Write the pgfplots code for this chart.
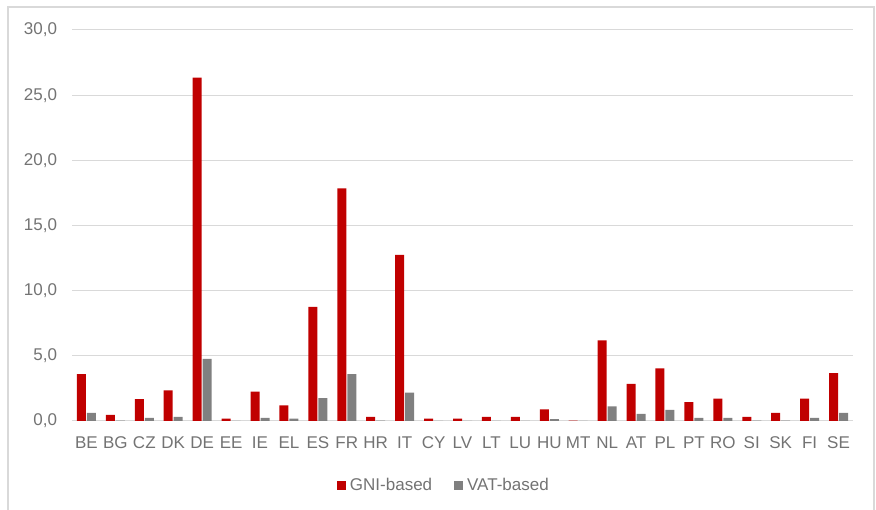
\documentclass[border=0pt]{standalone}
\usepackage{pgfplots}
\pgfplotsset{compat=1.18}
\usepackage{fontspec}
\setmainfont{Liberation Sans}
\definecolor{gnired}{HTML}{C00000}
\definecolor{vatgray}{HTML}{808080}
\definecolor{gridgray}{HTML}{D9D9D9}
\definecolor{txtgray}{HTML}{737373}
\definecolor{framegray}{HTML}{D9D9D9}
\begin{document}
\begin{tikzpicture}[x=1pt,y=1pt]
\path[use as bounding box] (0,0) rectangle (876,510);
\draw[framegray, line width=1.8pt] (8,0) -- (8,503) -- (874,503) -- (874,0);
\begin{axis}[
  at={(72pt,89pt)}, anchor=south west,
  scale only axis, width=781pt, height=391pt,
  xmin=-0.5, xmax=26.5, ymin=0, ymax=30,
  axis line style={draw=none},
  ymajorgrids, grid style={gridgray, line width=1pt},
  ytick={0,5,...,30},
  xtick={0,...,26},
  xticklabels={BE,BG,CZ,DK,DE,EE,IE,EL,ES,FR,HR,IT,CY,LV,LT,LU,HU,MT,NL,AT,PL,PT,RO,SI,SK,FI,SE},
  major tick length=0pt,
  tick label style={font=\fontsize{17}{20}\selectfont, text=txtgray},
  yticklabel style={/pgf/number format/.cd, fixed, fixed zerofill, precision=1, use comma, /tikz/.cd, anchor=east, xshift=-11.5pt},
  /pgf/number format/assume math mode=true,
  xticklabel style={anchor=north, yshift=-12pt},
  ybar, bar width=9pt,
  legend style={at={(0.339,-0.164)}, anchor=west, draw=none, fill=none,
    legend columns=2, font=\fontsize{17}{20}\selectfont, text=txtgray,
    /tikz/every even column/.append style={column sep=18pt},
    inner sep=0pt, nodes={inner xsep=4pt}},
  legend image code/.code={\fill[#1] (0pt,-4.5pt) rectangle (9pt,4.5pt);},
]
\addplot[fill=gnired, draw=none, bar shift=-5pt] coordinates {
(0,3.6) (1,0.46) (2,1.67) (3,2.34) (4,26.35) (5,0.18) (6,2.26) (7,1.2) (8,8.75) (9,17.85)
(10,0.31) (11,12.75) (12,0.18) (13,0.18) (14,0.31) (15,0.31) (16,0.9) (17,0.03) (18,6.18) (19,2.85)
(20,4.03) (21,1.44) (22,1.72) (23,0.31) (24,0.62) (25,1.72) (26,3.67)};
\addplot[fill=vatgray, draw=none, bar shift=5pt] coordinates {
(0,0.62) (1,0.02) (2,0.23) (3,0.31) (4,4.77) (5,0.0) (6,0.23) (7,0.18) (8,1.75) (9,3.59)
(10,0.02) (11,2.18) (12,0.0) (13,0.0) (14,0.0) (15,0.0) (16,0.15) (17,0.0) (18,1.13) (19,0.54)
(20,0.85) (21,0.23) (22,0.23) (23,0.02) (24,0.02) (25,0.23) (26,0.62)};
\legend{GNI-based, VAT-based}
\end{axis}
\end{tikzpicture}
\end{document}
